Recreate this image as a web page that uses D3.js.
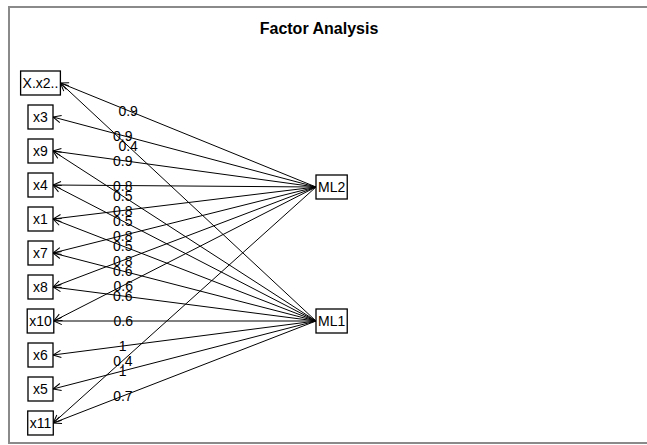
<!DOCTYPE html>
<html>
<head>
<meta charset="utf-8">
<script src="https://cdn.jsdelivr.net/npm/d3@7/dist/d3.min.js"></script>
<style>
  html, body { margin: 0; padding: 0; background: #fff; }
  svg { display: block; }
  text { font-family: "Liberation Sans", Arial, sans-serif; fill: #000; }
</style>
</head>
<body>
<svg id="chart" width="647" height="445"></svg>
<script>
// Observed variables, top to bottom
const variables = ["X.x2..", "x3", "x9", "x4", "x1", "x7", "x8", "x10", "x6", "x5", "x11"];
// Latent factors
const factors = ["ML2", "ML1"];
// Loadings per variable (null = no path drawn)
const loadingsML2 = [0.9, 0.9, 0.9, 0.8, 0.8, 0.8, 0.8, 0.6, null, null, 0.4];
const loadingsML1 = [0.4, null, 0.5, 0.5, 0.5, 0.6, 0.6, 0.6, 1, 1, 0.7];
const title = "Factor Analysis";

const svg = d3.select("#chart");
const W = 647, H = 445;

// plot frame
svg.append("rect")
  .attr("x", 9).attr("y", 7)
  .attr("width", W + 20).attr("height", 436)
  .attr("fill", "none").attr("stroke", "#8a8a8a").attr("stroke-width", 2);

svg.append("text")
  .attr("x", 319).attr("y", 34)
  .attr("text-anchor", "middle")
  .style("font-size", "16px").style("font-weight", "bold")
  .text(title);

const varY = d3.scalePoint().domain(variables).range([83, 423]);
const facY = d3.scalePoint().domain(factors).range([187, 321]);
const varCX = 40.5;
const facLeft = 316;
const boxH = 24;
const fontSize = 14;

// arrowhead marker
svg.append("defs").append("marker")
  .attr("id", "arrow")
  .attr("markerUnits", "userSpaceOnUse")
  .attr("markerWidth", 12).attr("markerHeight", 12)
  .attr("viewBox", "-10 -6 12 12")
  .attr("refX", 0).attr("refY", 0)
  .attr("orient", "auto")
  .append("path")
  .attr("d", "M-8,-3.6 L0,0 L-8,3.6")
  .attr("fill", "none").attr("stroke", "#000").attr("stroke-width", 1);

// measure text widths
function textWidth(s) {
  const t = svg.append("text").style("font-size", fontSize + "px").text(s);
  const w = t.node().getComputedTextLength();
  t.remove();
  return w;
}

const varBoxes = variables.map(v => {
  const w = Math.max(25, textWidth(v) + 4);
  return { name: v, cx: varCX, cy: varY(v), w: w, right: varCX + w / 2 };
});

const facBoxes = factors.map(f => {
  const w = textWidth(f) + 4;
  return { name: f, x: facLeft, cy: facY(f), w: w };
});

const loadingsByFactor = { ML2: loadingsML2, ML1: loadingsML1 };
const edges = [];
factors.forEach(f => {
  loadingsByFactor[f].forEach((val, i) => {
    if (val !== null) edges.push({ factor: f, variable: variables[i], value: val });
  });
});

const gEdges = svg.append("g");
const labelT = 0.265; // label position measured from the variable end

edges.forEach(e => {
  const vb = varBoxes.find(b => b.name === e.variable);
  const x1 = facLeft, y1 = facY(e.factor);
  const x2 = vb.right, y2 = vb.cy;
  gEdges.append("line")
    .attr("x1", x1).attr("y1", y1).attr("x2", x2).attr("y2", y2)
    .attr("stroke", "#000").attr("stroke-width", 1)
    .attr("marker-end", "url(#arrow)");
  e.lx = x2 + (x1 - x2) * labelT;
  e.ly = y2 + (y1 - y2) * labelT;
});

const gLabels = svg.append("g");
edges.forEach(e => {
  gLabels.append("text")
    .attr("x", e.lx).attr("y", e.ly)
    .attr("text-anchor", "middle").attr("dy", "0.36em")
    .style("font-size", fontSize + "px")
    .text(d3.format("")(Math.round(e.value * 10) / 10));
});

// variable boxes
const gVar = svg.append("g");
varBoxes.forEach(b => {
  gVar.append("rect")
    .attr("x", b.cx - b.w / 2).attr("y", b.cy - boxH / 2)
    .attr("width", b.w).attr("height", boxH)
    .attr("fill", "#fff").attr("stroke", "#000").attr("stroke-width", 1.3);
  gVar.append("text")
    .attr("x", b.cx).attr("y", b.cy).attr("dy", "0.36em")
    .attr("text-anchor", "middle")
    .style("font-size", fontSize + "px")
    .text(b.name);
});

// factor boxes
const gFac = svg.append("g");
facBoxes.forEach(b => {
  gFac.append("rect")
    .attr("x", b.x).attr("y", b.cy - boxH / 2)
    .attr("width", b.w).attr("height", boxH)
    .attr("fill", "none").attr("stroke", "#000").attr("stroke-width", 1.3);
  gFac.append("text")
    .attr("x", b.x + b.w / 2).attr("y", b.cy).attr("dy", "0.36em")
    .attr("text-anchor", "middle")
    .style("font-size", fontSize + "px")
    .text(b.name);
});
</script>
</body>
</html>
